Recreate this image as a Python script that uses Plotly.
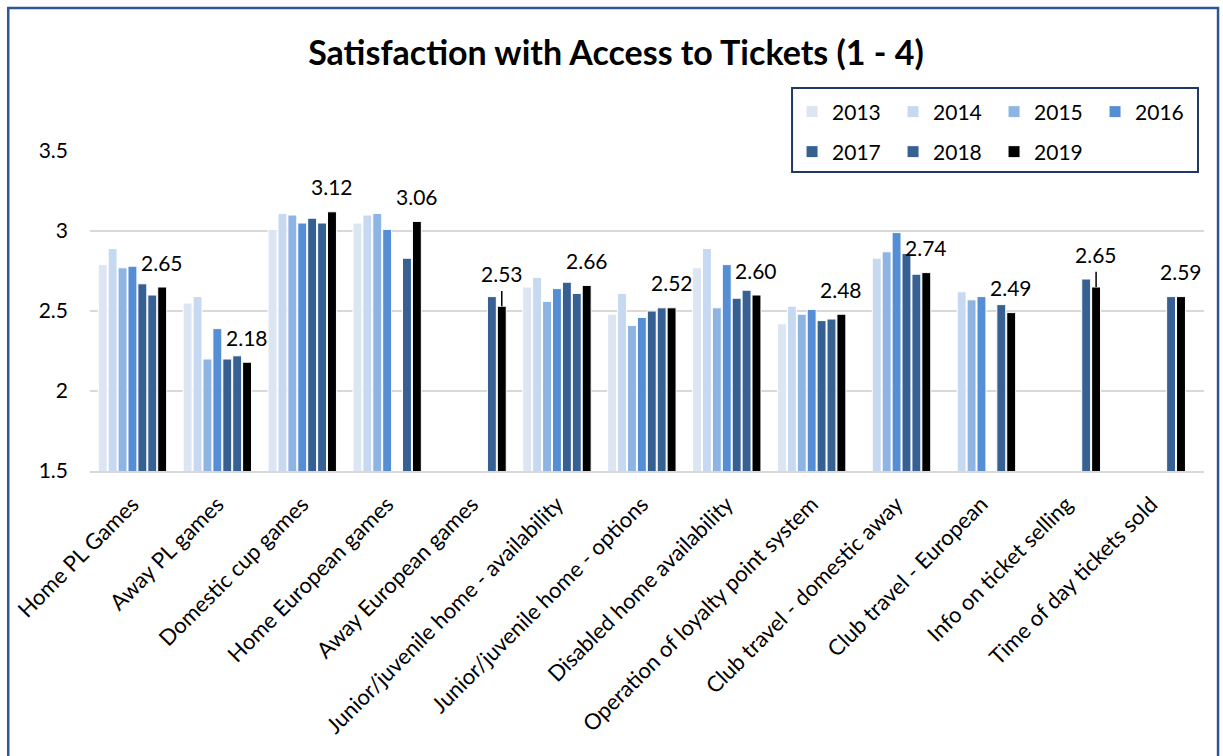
import plotly.graph_objects as go

# Survey categories (x axis)
categories = [
    "Home PL Games",
    "Away PL games",
    "Domestic cup games",
    "Home European games",
    "Away European games",
    "Junior/juvenile home - availability",
    "Junior/juvenile home - options",
    "Disabled home availability",
    "Operation of loyalty point system",
    "Club travel - domestic away",
    "Club travel - European",
    "Info on ticket selling",
    "Time of day tickets sold",
]

years = ["2013", "2014", "2015", "2016", "2017", "2018", "2019"]

# Mean satisfaction score per year (None = question not asked that year)
s2013 = [2.79, 2.55, 3.01, 3.05, None, 2.65, 2.48, 2.77, 2.42, None, None, None, None]
s2014 = [2.89, 2.59, 3.11, 3.10, None, 2.71, 2.61, 2.89, 2.53, 2.83, 2.62, None, None]
s2015 = [2.77, 2.20, 3.10, 3.11, None, 2.56, 2.41, 2.52, 2.48, 2.87, 2.57, None, None]
s2016 = [2.78, 2.39, 3.05, 3.01, None, 2.64, 2.46, 2.79, 2.51, 2.99, 2.59, None, None]
s2017 = [2.67, 2.20, 3.08, None, None, 2.68, 2.50, 2.58, 2.44, 2.86, None, None, None]
s2018 = [2.60, 2.22, 3.05, 2.83, 2.59, 2.61, 2.52, 2.63, 2.45, 2.73, 2.54, 2.70, 2.59]
s2019 = [2.65, 2.18, 3.12, 3.06, 2.53, 2.66, 2.52, 2.60, 2.48, 2.74, 2.49, 2.65, 2.59]

series = [s2013, s2014, s2015, s2016, s2017, s2018, s2019]
colors = ["#DCE6F2", "#C6D9F1", "#8DB4E2", "#558ED5", "#376092", "#386193", "#000000"]

# categories whose 2019 label sits on a short leader line
leader_cats = ["Away European games", "Info on ticket selling"]

FONT = "Lato, 'Open Sans', sans-serif"
BARGAP = 0.183

fig = go.Figure()
for i, (yr, vals, col) in enumerate(zip(years, series, colors)):
    fig.add_trace(go.Bar(
        x=categories, y=vals, name=yr,
        marker=dict(color=col, line=dict(color="white", width=1)),
        legend="legend" if i < 4 else "legend2",
    ))

# position of the 2019 bar inside each category group
n = len(years)
slot = (1 - BARGAP) / n
off19 = -(1 - BARGAP) / 2 + (n - 0.5) * slot

annotations = []
shapes = []
for idx, (cat, v) in enumerate(zip(categories, s2019)):
    lead = cat in leader_cats
    annotations.append(dict(
        x=idx + off19, y=v, xref="x", yref="y",
        text=f"{v:.2f}", showarrow=False,
        yanchor="middle", yshift=33 if lead else 25,
        font=dict(family=FONT, size=21, color="black"),
    ))
    if lead:
        shapes.append(dict(
            type="line", xref="x", yref="y",
            x0=idx + off19, x1=idx + off19, y0=v, y1=v + 0.095,
            line=dict(color="black", width=1.5),
        ))

# legend frame
shapes.append(dict(type="rect", xref="paper", yref="paper",
                   x0=0.6302, x1=0.9946, y0=0.934, y1=1.197,
                   line=dict(color="#203864", width=2), layer="above"))
# outer chart frame
shapes.append(dict(type="rect", xref="paper", yref="paper",
                   x0=-0.0734, x1=1.0126, y0=-0.95, y1=1.447,
                   line=dict(color="#2F5597", width=2.5)))

legend_common = dict(
    orientation="h", xanchor="left", yanchor="middle",
    bgcolor="rgba(0,0,0,0)", borderwidth=0,
    font=dict(family=FONT, size=21, color="black"),
    entrywidth=56, entrywidthmode="pixels", itemclick=False,
)

fig.update_layout(
    width=1223, height=756,
    margin=dict(l=90, r=19, t=151, b=285),
    paper_bgcolor="white", plot_bgcolor="white",
    barmode="group", bargap=BARGAP, bargroupgap=0.1,
    title=dict(
        text="<b>Satisfaction with Access to Tickets (1 - 4)</b>",
        x=616 / 1223, xanchor="center", xref="container",
        y=1 - 53 / 756, yanchor="middle", yref="container",
        font=dict(family=FONT, size=34, color="black"),
    ),
    font=dict(family=FONT, size=21, color="black"),
    xaxis=dict(
        type="category", tickangle=-45, showgrid=False,
        showline=True, linecolor="#D9D9D9", linewidth=1.5,
        ticks="", ticklabelstandoff=10,
        tickfont=dict(family=FONT, size=22, color="black"),
    ),
    yaxis=dict(
        range=[1.5, 3.5], dtick=0.5, tick0=1.5,
        showgrid=True, gridcolor="#D9D9D9", gridwidth=1.5,
        zeroline=False, showline=False, ticks="",
        ticklabelstandoff=21,
        tickfont=dict(family=FONT, size=21, color="black"),
    ),
    legend=dict(x=0.6302, y=1.1219, **legend_common),
    legend2=dict(x=0.6302, y=0.9969, **legend_common),
    annotations=annotations,
    shapes=shapes,
)

fig.write_html("out.html")
